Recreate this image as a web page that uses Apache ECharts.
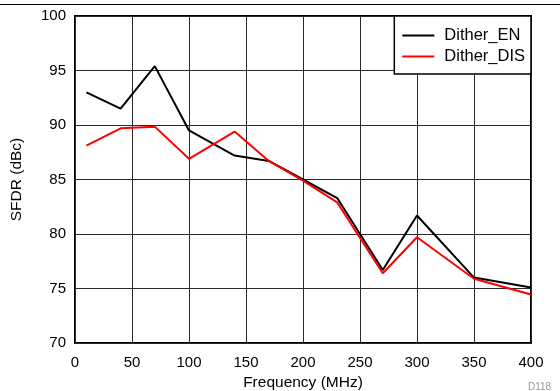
<!DOCTYPE html>
<html>
<head>
<meta charset="utf-8">
<script src="https://cdn.jsdelivr.net/npm/echarts@6/dist/echarts.min.js"></script>
<style>
  html, body { margin: 0; padding: 0; background: #fff; }
  #chart { width: 560px; height: 391px; }
</style>
</head>
<body>
<div id="chart"></div>
<script>
// Input frequency points (MHz)
const frequencies = [10, 40, 70, 100, 140, 170, 200, 230, 270, 300, 350, 400];
// SFDR (dBc) with dither enabled
const ditherEn = [93.0, 91.5, 95.4, 89.5, 87.2, 86.7, 85.0, 83.3, 76.7, 81.7, 76.0, 75.1];
// SFDR (dBc) with dither disabled
const ditherDis = [88.1, 89.7, 89.85, 86.9, 89.4, 86.7, 84.9, 82.9, 76.4, 79.7, 75.9, 74.45];

const FONT = '"Liberation Sans", Arial, sans-serif';

const pairs = (xs, ys) => xs.map((x, i) => [x, ys[i]]);

const chart = echarts.init(document.getElementById('chart'), null, { renderer: 'canvas' });
chart.setOption({
  animation: false,
  backgroundColor: '#fff',
  grid: {
    left: 75, right: 29, top: 16, bottom: 48,
    outerBoundsMode: 'none', containLabel: false,
    show: true, borderColor: '#000', borderWidth: 2, backgroundColor: 'transparent'
  },
  legend: {
    orient: 'vertical',
    right: 29, top: 16,
    backgroundColor: '#fff',
    borderColor: '#000', borderWidth: 1.5, borderRadius: 0,
    padding: [11, 6, 9, 8],
    itemGap: 4,
    itemWidth: 32, itemHeight: 2,
    icon: 'rect',
    textStyle: { fontFamily: FONT, fontSize: 16.5, color: '#000', padding: [0, 0, 0, 5] },
    data: ['Dither_EN', 'Dither_DIS']
  },
  xAxis: {
    type: 'value', min: 0, max: 400, interval: 50,
    name: 'Frequency (MHz)', nameLocation: 'middle', nameGap: 31,
    nameTextStyle: { fontFamily: FONT, fontSize: 15.5, color: '#000' },
    axisLine: { show: false },
    axisTick: { show: false },
    axisLabel: { fontFamily: FONT, fontSize: 15, color: '#000', margin: 12 },
    splitLine: { show: true, lineStyle: { color: '#2a2a2a', width: 1 } }
  },
  yAxis: {
    type: 'value', min: 70, max: 100, interval: 5,
    name: 'SFDR (dBc)', nameLocation: 'middle', nameGap: 50, nameRotate: 90,
    nameTextStyle: { fontFamily: FONT, fontSize: 15.5, color: '#000' },
    axisLine: { show: false },
    axisTick: { show: false },
    axisLabel: { fontFamily: FONT, fontSize: 15, color: '#000', margin: 9 },
    splitLine: { show: true, lineStyle: { color: '#2a2a2a', width: 1 } }
  },
  series: [
    {
      name: 'Dither_EN', type: 'line', data: pairs(frequencies, ditherEn),
      showSymbol: false, symbol: 'none',
      lineStyle: { color: '#000', width: 2 }, itemStyle: { color: '#000' }
    },
    {
      name: 'Dither_DIS', type: 'line', data: pairs(frequencies, ditherDis),
      showSymbol: false, symbol: 'none',
      lineStyle: { color: '#ff0000', width: 2 }, itemStyle: { color: '#ff0000' }
    }
  ],
  graphic: [
    { type: 'line', shape: { x1: 0, y1: 4.5, x2: 560, y2: 4.5 }, style: { stroke: '#000', lineWidth: 1 } },
    { type: 'text', left: 528, top: 382,
      style: { text: 'D118', font: '10px ' + FONT, fill: '#999' } }
  ]
});
</script>
</body>
</html>
